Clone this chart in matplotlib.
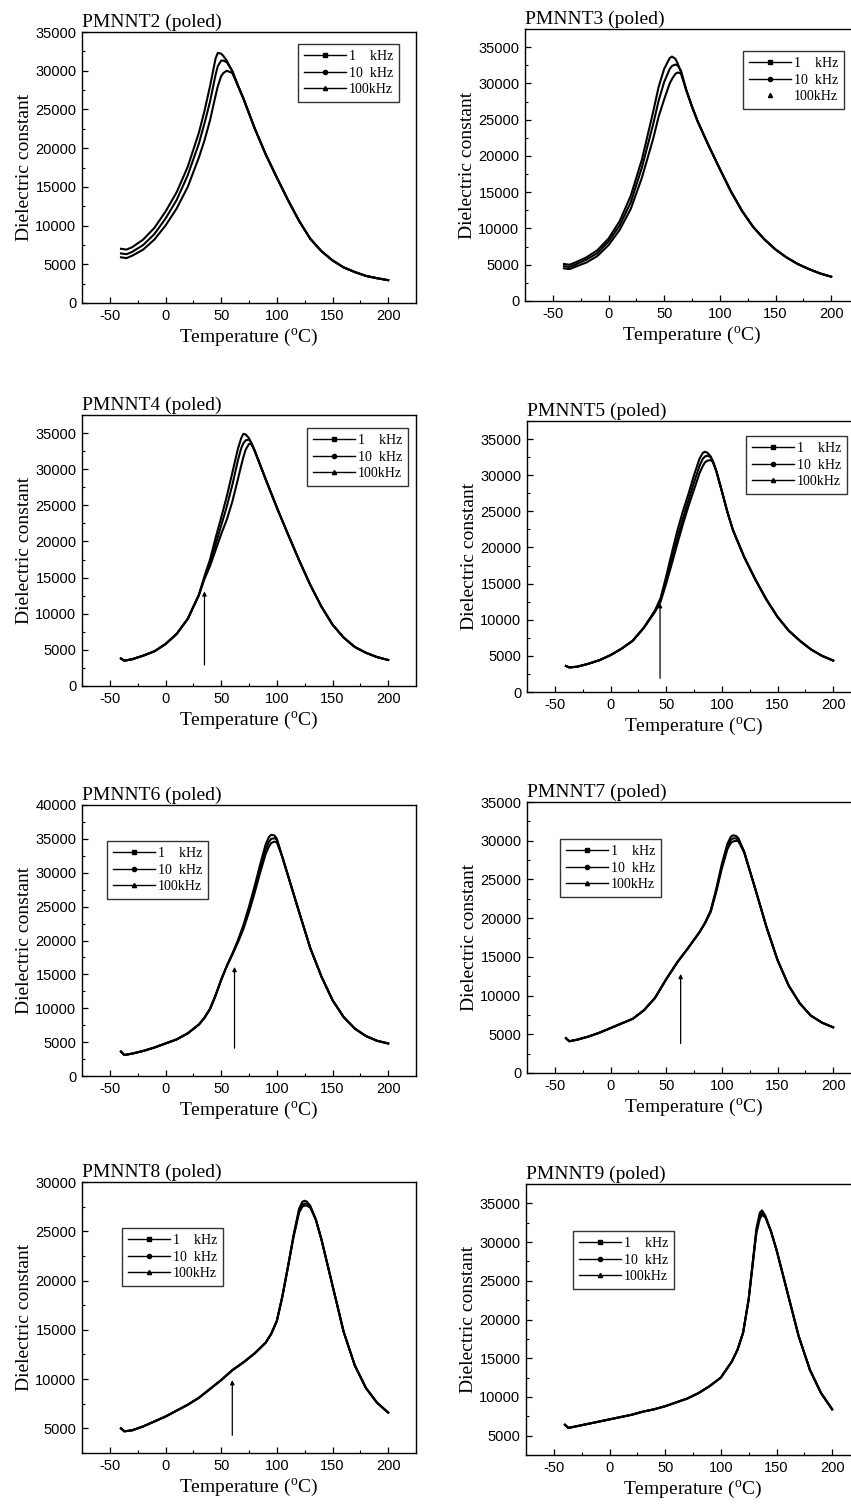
import numpy as np
import matplotlib
matplotlib.use("Agg")
import matplotlib.pyplot as plt
from matplotlib.lines import Line2D
from matplotlib.ticker import MultipleLocator

plt.rcParams['font.family'] = ['Liberation Serif', 'DejaVu Serif']
plt.rcParams['mathtext.fontset'] = 'custom'
plt.rcParams['mathtext.rm'] = 'Liberation Serif'
plt.rcParams['axes.unicode_minus'] = False


# ---- data (temperature in C, dielectric constant in thousands) ----

T2 = [-40, -35, -30, -20, -10, 0, 10, 20, 30, 35, 40, 45, 47, 50, 52, 55, 60, 65, 70, 80, 90, 100, 110, 120, 130, 140, 150, 160, 170, 180, 190, 200]
E2_1k   = [7.0, 6.9, 7.2, 8.2, 9.7, 11.8, 14.3, 17.6, 22.0, 24.8, 28.0, 31.6, 32.3, 32.2, 31.9, 31.3, 29.9, 28.1, 26.4, 22.6, 19.2, 16.2, 13.3, 10.6, 8.3, 6.7, 5.5, 4.6, 4.0, 3.5, 3.2, 2.95]
E2_10k  = [6.4, 6.3, 6.6, 7.5, 8.9, 10.9, 13.3, 16.5, 20.6, 23.2, 26.0, 29.5, 30.6, 31.3, 31.3, 31.1, 30.0, 28.1, 26.4, 22.6, 19.2, 16.2, 13.3, 10.6, 8.3, 6.7, 5.5, 4.6, 4.0, 3.5, 3.2, 2.95]
E2_100k = [5.9, 5.8, 6.1, 6.9, 8.2, 10.0, 12.2, 15.0, 18.8, 21.0, 23.6, 26.8, 28.0, 29.3, 29.7, 30.0, 29.7, 28.1, 26.4, 22.6, 19.2, 16.2, 13.3, 10.6, 8.3, 6.7, 5.5, 4.6, 4.0, 3.5, 3.2, 2.95]

T3 = [-40, -35, -30, -20, -10, 0, 10, 20, 30, 40, 45, 50, 55, 57, 60, 62, 65, 70, 75, 80, 90, 100, 110, 120, 130, 140, 150, 160, 170, 180, 190, 200]
E3_1k   = [5.1, 5.0, 5.3, 6.0, 7.0, 8.6, 11.0, 14.5, 19.5, 26.0, 29.5, 32.0, 33.5, 33.7, 33.4, 32.8, 31.6, 29.0, 26.8, 24.8, 21.4, 18.2, 15.1, 12.4, 10.2, 8.5, 7.1, 6.0, 5.1, 4.4, 3.8, 3.35]
E3_10k  = [4.8, 4.7, 5.0, 5.7, 6.6, 8.2, 10.4, 13.6, 18.4, 24.3, 27.6, 30.2, 32.0, 32.4, 32.6, 32.5, 31.8, 29.0, 26.8, 24.8, 21.4, 18.2, 15.1, 12.4, 10.2, 8.5, 7.1, 6.0, 5.1, 4.4, 3.8, 3.35]
E3_100k = [4.5, 4.4, 4.7, 5.3, 6.2, 7.7, 9.8, 12.7, 17.0, 22.3, 25.4, 27.8, 30.0, 30.6, 31.3, 31.5, 31.4, 29.0, 26.8, 24.8, 21.4, 18.2, 15.1, 12.4, 10.2, 8.5, 7.1, 6.0, 5.1, 4.4, 3.8, 3.35]

T4 = [-40, -37, -30, -20, -10, 0, 10, 20, 30, 35, 40, 45, 50, 55, 60, 65, 68, 70, 72, 75, 77, 80, 90, 100, 110, 120, 130, 140, 150, 160, 170, 180, 190, 200]
E4_1k   = [3.8, 3.5, 3.7, 4.2, 4.8, 5.8, 7.2, 9.3, 12.6, 15.2, 17.5, 20.5, 23.3, 26.2, 29.5, 32.8, 34.3, 34.9, 34.8, 34.3, 33.6, 32.6, 28.6, 24.7, 21.0, 17.4, 14.0, 11.0, 8.5, 6.7, 5.4, 4.6, 4.0, 3.6]
E4_10k  = [3.8, 3.5, 3.7, 4.2, 4.8, 5.8, 7.2, 9.3, 12.6, 15.0, 17.0, 19.6, 22.2, 24.8, 27.8, 31.2, 32.9, 33.6, 34.0, 34.1, 33.7, 32.6, 28.6, 24.7, 21.0, 17.4, 14.0, 11.0, 8.5, 6.7, 5.4, 4.6, 4.0, 3.6]
E4_100k = [3.8, 3.5, 3.7, 4.2, 4.8, 5.8, 7.2, 9.3, 12.6, 14.8, 16.6, 18.8, 21.0, 23.0, 25.5, 28.6, 30.5, 31.7, 32.7, 33.5, 33.5, 32.6, 28.6, 24.7, 21.0, 17.4, 14.0, 11.0, 8.5, 6.7, 5.4, 4.6, 4.0, 3.6]

T5 = [-40, -37, -30, -20, -10, 0, 10, 20, 30, 40, 45, 50, 55, 60, 65, 70, 75, 80, 83, 85, 87, 90, 92, 95, 100, 105, 110, 120, 130, 140, 150, 160, 170, 180, 190, 200]
E5_1k   = [3.6, 3.4, 3.5, 3.9, 4.4, 5.1, 6.0, 7.1, 8.9, 11.3, 13.0, 16.0, 19.2, 22.3, 25.0, 27.4, 30.0, 32.3, 33.1, 33.25, 33.1, 32.6, 31.9, 30.6, 27.8, 24.9, 22.4, 18.7, 15.6, 12.8, 10.4, 8.5, 7.1, 5.9, 5.0, 4.35]
E5_10k  = [3.6, 3.4, 3.5, 3.9, 4.4, 5.1, 6.0, 7.1, 8.9, 11.2, 12.8, 15.5, 18.4, 21.3, 24.0, 26.5, 29.0, 31.3, 32.3, 32.6, 32.7, 32.5, 31.9, 30.6, 27.8, 24.9, 22.4, 18.7, 15.6, 12.8, 10.4, 8.5, 7.1, 5.9, 5.0, 4.35]
E5_100k = [3.6, 3.4, 3.5, 3.9, 4.4, 5.1, 6.0, 7.1, 8.9, 11.1, 12.5, 15.0, 17.7, 20.5, 23.2, 25.7, 28.0, 30.3, 31.3, 31.8, 32.0, 32.1, 31.8, 30.6, 27.8, 24.9, 22.4, 18.7, 15.6, 12.8, 10.4, 8.5, 7.1, 5.9, 5.0, 4.35]

T6 = [-40, -37, -30, -20, -10, 0, 10, 20, 30, 35, 40, 45, 50, 55, 60, 65, 70, 75, 80, 85, 90, 93, 95, 98, 100, 105, 110, 120, 130, 140, 150, 160, 170, 180, 190, 200]
E6_1k   = [3.6, 3.1, 3.3, 3.7, 4.2, 4.8, 5.4, 6.3, 7.6, 8.6, 9.9, 11.9, 14.2, 16.2, 18.0, 20.0, 22.3, 25.0, 28.0, 31.2, 34.2, 35.3, 35.6, 35.5, 35.0, 32.3, 29.6, 24.2, 18.9, 14.7, 11.2, 8.7, 7.0, 5.9, 5.2, 4.8]
E6_10k  = [3.6, 3.1, 3.3, 3.7, 4.2, 4.8, 5.4, 6.3, 7.6, 8.6, 9.9, 11.9, 14.2, 16.2, 18.0, 19.9, 22.0, 24.6, 27.5, 30.6, 33.5, 34.6, 35.0, 35.1, 34.9, 32.3, 29.6, 24.2, 18.9, 14.7, 11.2, 8.7, 7.0, 5.9, 5.2, 4.8]
E6_100k = [3.6, 3.1, 3.3, 3.7, 4.2, 4.8, 5.4, 6.3, 7.6, 8.6, 9.9, 11.9, 14.2, 16.2, 17.9, 19.7, 21.7, 24.2, 27.0, 30.0, 32.8, 33.9, 34.4, 34.6, 34.5, 32.3, 29.6, 24.2, 18.9, 14.7, 11.2, 8.7, 7.0, 5.9, 5.2, 4.8]

T7 = [-40, -37, -30, -20, -10, 0, 10, 20, 30, 40, 50, 60, 70, 80, 85, 90, 95, 100, 105, 108, 110, 113, 115, 120, 130, 140, 150, 160, 170, 180, 190, 200]
E7_1k   = [4.5, 4.1, 4.3, 4.7, 5.2, 5.8, 6.4, 7.0, 8.1, 9.7, 12.1, 14.3, 16.2, 18.2, 19.4, 21.0, 23.8, 27.0, 29.6, 30.5, 30.7, 30.6, 30.3, 28.6, 23.8, 18.9, 14.6, 11.3, 9.0, 7.4, 6.5, 5.9]
E7_10k  = [4.5, 4.1, 4.3, 4.7, 5.2, 5.8, 6.4, 7.0, 8.1, 9.7, 12.1, 14.3, 16.2, 18.2, 19.4, 20.9, 23.6, 26.7, 29.3, 30.1, 30.3, 30.3, 30.1, 28.6, 23.8, 18.9, 14.6, 11.3, 9.0, 7.4, 6.5, 5.9]
E7_100k = [4.5, 4.1, 4.3, 4.7, 5.2, 5.8, 6.4, 7.0, 8.1, 9.7, 12.1, 14.3, 16.2, 18.2, 19.4, 20.8, 23.4, 26.4, 28.9, 29.7, 29.9, 30.0, 29.9, 28.5, 23.8, 18.9, 14.6, 11.3, 9.0, 7.4, 6.5, 5.9]

T8 = [-40, -37, -30, -20, -10, 0, 10, 20, 30, 40, 50, 60, 70, 80, 90, 95, 100, 105, 110, 115, 120, 123, 125, 127, 130, 135, 140, 150, 160, 170, 180, 190, 200]
E8_1k   = [5.0, 4.7, 4.8, 5.2, 5.7, 6.2, 6.8, 7.4, 8.1, 9.0, 9.9, 10.9, 11.7, 12.6, 13.7, 14.6, 15.9, 18.4, 21.4, 24.6, 27.3, 28.0, 28.1, 28.0, 27.6, 26.2, 24.2, 19.5, 14.8, 11.4, 9.1, 7.6, 6.6]
E8_10k  = [5.0, 4.7, 4.8, 5.2, 5.7, 6.2, 6.8, 7.4, 8.1, 9.0, 9.9, 10.9, 11.7, 12.6, 13.7, 14.6, 15.9, 18.4, 21.4, 24.5, 27.1, 27.7, 27.8, 27.8, 27.5, 26.2, 24.2, 19.5, 14.8, 11.4, 9.1, 7.6, 6.6]
E8_100k = [5.0, 4.7, 4.8, 5.2, 5.7, 6.2, 6.8, 7.4, 8.1, 9.0, 9.9, 10.9, 11.7, 12.6, 13.7, 14.6, 15.9, 18.4, 21.4, 24.4, 26.9, 27.5, 27.6, 27.6, 27.4, 26.2, 24.2, 19.5, 14.8, 11.4, 9.1, 7.6, 6.6]

T9 = [-40, -37, -30, -20, -10, 0, 10, 20, 30, 40, 50, 60, 70, 80, 90, 100, 110, 115, 120, 125, 130, 132, 135, 137, 140, 145, 150, 160, 170, 180, 190, 200]
E9_1k   = [6.4, 6.0, 6.2, 6.5, 6.8, 7.1, 7.4, 7.7, 8.1, 8.4, 8.8, 9.3, 9.8, 10.5, 11.4, 12.5, 14.6, 16.1, 18.3, 22.6, 29.2, 31.8, 33.8, 34.1, 33.4, 31.4, 29.0, 23.4, 17.8, 13.5, 10.5, 8.4]
E9_10k  = [6.4, 6.0, 6.2, 6.5, 6.8, 7.1, 7.4, 7.7, 8.1, 8.4, 8.8, 9.3, 9.8, 10.5, 11.4, 12.5, 14.6, 16.1, 18.3, 22.6, 29.0, 31.5, 33.4, 33.8, 33.3, 31.4, 29.0, 23.4, 17.8, 13.5, 10.5, 8.4]
E9_100k = [6.4, 6.0, 6.2, 6.5, 6.8, 7.1, 7.4, 7.7, 8.1, 8.4, 8.8, 9.3, 9.8, 10.5, 11.4, 12.5, 14.6, 16.1, 18.3, 22.6, 28.8, 31.2, 33.0, 33.5, 33.2, 31.4, 29.0, 23.4, 17.8, 13.5, 10.5, 8.4]

names = ["PMNNT2", "PMNNT3", "PMNNT4", "PMNNT5", "PMNNT6", "PMNNT7", "PMNNT8", "PMNNT9"]
temps = [T2, T3, T4, T5, T6, T7, T8, T9]
series = [
    [E2_1k, E2_10k, E2_100k],
    [E3_1k, E3_10k, E3_100k],
    [E4_1k, E4_10k, E4_100k],
    [E5_1k, E5_10k, E5_100k],
    [E6_1k, E6_10k, E6_100k],
    [E7_1k, E7_10k, E7_100k],
    [E8_1k, E8_10k, E8_100k],
    [E9_1k, E9_10k, E9_100k],
]
freq_labels = ["1    kHz", "10  kHz", "100kHz"]
y_limits = [(0, 35000), (0, 37500), (0, 37500), (0, 37500),
            (0, 40000), (0, 35000), (2500, 30000), (2500, 37500)]

# arrows marking the shoulder: (temperature, bottom, top), None = no arrow
arrows = [None, None, (35, 2900, 13100), (44.5, 1900, 12300),
          (62, 4100, 16100), (63, 3800, 12800), (60, 4300, 9900), None]


# ---- layout in pixels (left, top, right, bottom) on an 851 x 1508 canvas ----
W, H = 851.0, 1508.0
boxes = [(82, 32, 416, 303), (525, 29, 859, 301),
         (82, 415, 416, 686), (527, 421, 861, 692),
         (82, 805, 416, 1076), (527, 802, 861, 1073),
         (82, 1182, 416, 1453), (526, 1184, 860, 1455)]
legend_at = [(298, 44), (743, 51), (307, 428), (746, 436),
             (107, 841), (560, 839), (122, 1228), (573, 1231)]

markers = ['s', 'o', '^']

fig = plt.figure(figsize=(W / 100, H / 100), dpi=100)

for i in range(8):
    l, t, r, b = boxes[i]
    ax = fig.add_axes([l / W, 1 - b / H, (r - l) / W, (b - t) / H])

    T = np.array(temps[i])
    for k in range(3):
        ax.plot(T, np.array(series[i][k]) * 1000, color='black', lw=1.5)

    if arrows[i] is not None:
        xa, lo, hi = arrows[i]
        ax.annotate('', xy=(xa, hi), xytext=(xa, lo),
                    arrowprops=dict(arrowstyle='-|>', color='black', lw=0.9,
                                    mutation_scale=6, shrinkA=0, shrinkB=0))

    ax.set_xlim(-75, 225)
    ax.set_ylim(*y_limits[i])
    ax.xaxis.set_major_locator(MultipleLocator(50))
    ax.xaxis.set_minor_locator(MultipleLocator(25))
    ax.yaxis.set_major_locator(MultipleLocator(5000))
    ax.yaxis.set_minor_locator(MultipleLocator(2500))
    ax.tick_params(which='both', direction='in', top=False, right=False)
    ax.tick_params(which='major', length=4, width=0.9, pad=4)
    ax.tick_params(which='minor', length=2.5, width=0.8)
    for lab in ax.get_xticklabels() + ax.get_yticklabels():
        lab.set_family('Liberation Sans')
        lab.set_fontsize(10.5)
    for sp in ax.spines.values():
        sp.set_linewidth(1.0)

    ax.set_xlabel(r'Temperature ($^{\mathrm{o}}$C)', fontsize=14, labelpad=3)
    ax.set_ylabel('Dielectric constant', fontsize=14, labelpad=2)
    ax.set_title(names[i] + " (poled)", loc='left', fontsize=14, pad=4)

    handles = [Line2D([], [], color='black', lw=1.0, marker=m, markersize=3)
               for m in markers]
    if i == 1:
        # in the PMNNT3 legend the 100kHz entry is shown as a marker only
        handles[2].set_linestyle('None')

    lx, ly = legend_at[i]
    leg = ax.legend(handles, freq_labels, loc='upper left',
                    bbox_to_anchor=(lx / W, 1 - ly / H),
                    bbox_transform=fig.transFigure, borderaxespad=0,
                    fontsize=10, frameon=True, fancybox=False,
                    handlelength=3.0, handletextpad=0.2, labelspacing=0.25,
                    borderpad=0.45)
    leg.get_frame().set_edgecolor('black')
    leg.get_frame().set_linewidth(1.0)

fig.savefig("out.png", dpi=100)
